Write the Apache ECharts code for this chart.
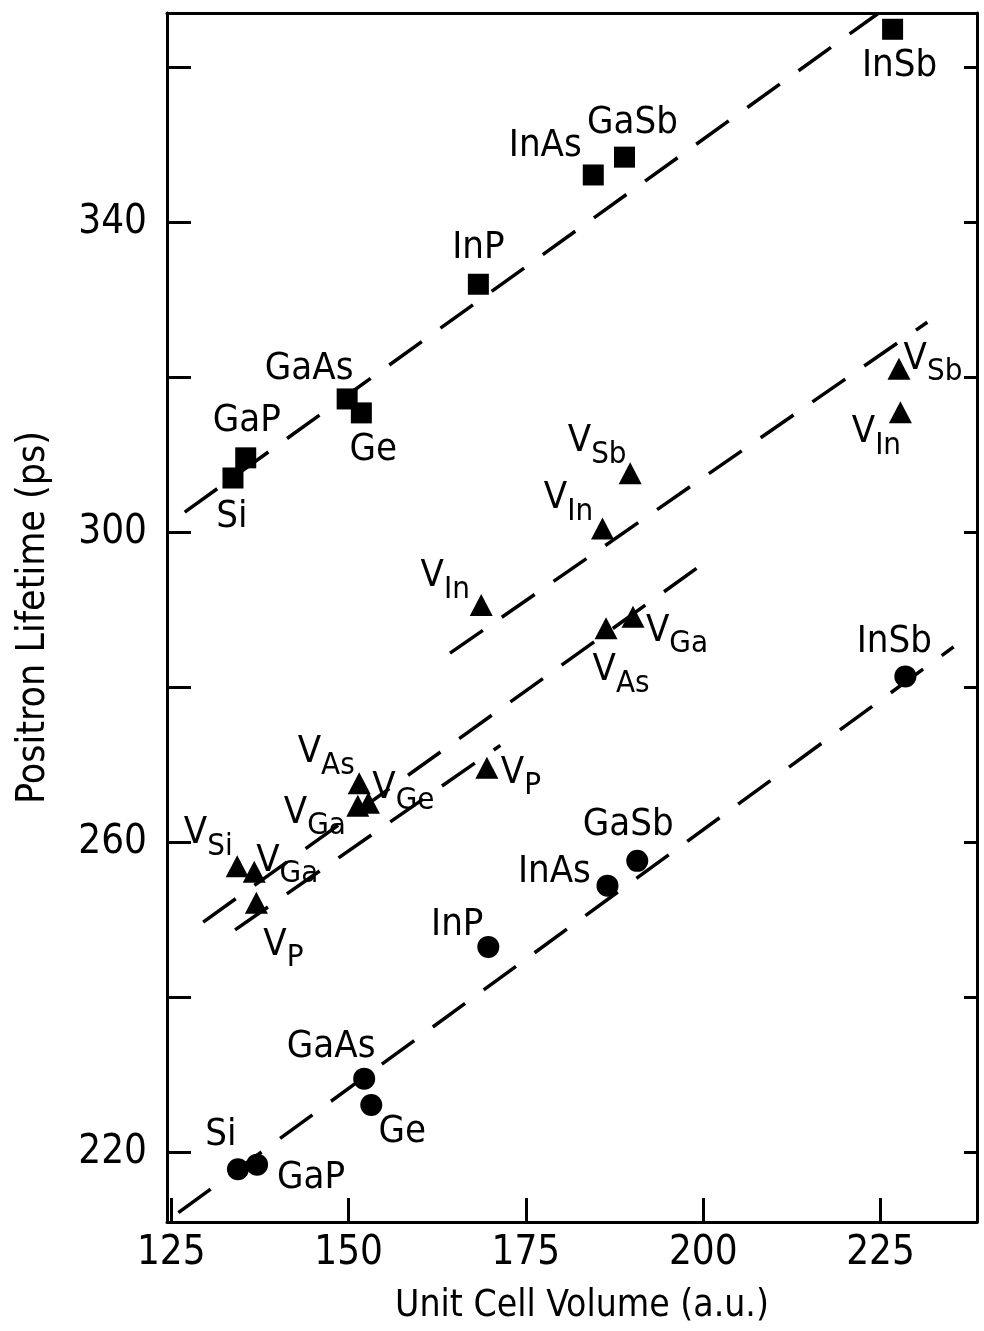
<!DOCTYPE html>
<html>
<head>
<meta charset="utf-8">
<title>Positron Lifetime vs Unit Cell Volume</title>
<script src="https://cdn.jsdelivr.net/npm/echarts@6/dist/echarts.min.js"></script>
<style>
  html, body { margin: 0; padding: 0; background: #fff; }
  #chart { width: 984px; height: 1331px; }
</style>
</head>
<body>
<div id="chart"></div>
<script>
// ---- axis ticks ----
const xTickValues = [125, 150, 175, 200, 225];
const yTickValues = [220, 240, 260, 280, 300, 320, 340, 360];
const yLabelValues = [220, 260, 300, 340];

// ---- divacancy lifetimes (filled squares) ----
const divacancyNames    = ['Si', 'GaP', 'GaAs', 'Ge', 'InP', 'InAs', 'GaSb', 'InSb'];
const divacancyVolume   = [133.7, 135.5, 149.8, 151.8, 168.3, 184.5, 188.9, 226.7];
const divacancyLifetime = [307.0, 309.6, 317.2, 315.4, 332.0, 346.1, 348.4, 364.9];

// ---- monovacancy lifetimes (filled triangles), labelled V with the site as subscript ----
const vacancySite     = ['Si', 'Ga', 'P', 'As', 'Ga', 'Ge', 'P', 'In', 'In', 'As', 'Sb', 'Ga', 'Sb', 'In'];
const vacancyVolume   = [134.3, 136.7, 137.0, 151.5, 151.3, 152.8, 169.5, 168.7, 185.8, 186.3, 189.7, 190.1, 227.6, 227.8];
const vacancyLifetime = [256.9, 256.2, 252.2, 267.6, 264.7, 265.1, 269.6, 290.6, 300.5, 287.6, 307.6, 289.1, 321.1, 315.5];

// ---- bulk lifetimes (filled circles) ----
const bulkNames    = ['Si', 'GaP', 'GaAs', 'Ge', 'InP', 'InAs', 'GaSb', 'InSb'];
const bulkVolume   = [134.4, 137.1, 152.2, 153.2, 169.7, 186.5, 190.7, 228.5];
const bulkLifetime = [217.8, 218.4, 229.5, 226.1, 246.5, 254.4, 257.6, 281.4];

// ---- dashed trend lines, [volume, lifetime] end points ----
const trendDivacancy     = [[126.9, 302.6], [224.6, 366.9]];
const trendVacancyUpper  = [[164.3, 284.4], [231.6, 327.1]];
const trendVacancyMiddle = [[129.5, 249.7], [201.3, 296.8]];
const trendVacancyLower  = [[134.0, 248.7], [171.4, 272.5]];
const trendBulk          = [[126.0, 212.2], [235.3, 285.2]];

// ---- label placement (pixel offsets from each marker centre) ----
const divacancyLabelOffset = [[-1, 39], [1, -37], [-38, -30], [12, 37], [0, -36], [-48, -29], [8, -34], [7, 37]];
const vacancyLabelOffset = [[-29, -33], [33, -11], [27, 42], [-33, -31], [-43, 7], [35, -15], [34, 5],
                            [-36, -29], [-34, -30], [15, 42], [-33, -32], [44, 14], [34, -10], [-24, 20]];
const bulkLabelOffset = [[-17, -34], [54, 13], [-33, -32], [31, 27], [-31, -22], [-53, -14], [-9, -36], [-11, -34]];

const FONT = "'Liberation Sans Narrow', 'Arial Narrow', 'DejaVu Sans Condensed', sans-serif";
const INK = '#000';

const baseLabel = {
  show: true,
  position: 'inside',
  color: INK,
  opacity: 1,
  fontFamily: FONT,
  fontSize: 38,
  align: 'center',
  verticalAlign: 'middle'
};

function namedPoints(names, xs, ys, offsets) {
  return names.map((n, i) => ({
    name: n,
    value: [xs[i], ys[i]],
    label: { offset: offsets[i] }
  }));
}

function trendSeries(points) {
  return {
    type: 'line',
    data: points,
    symbol: 'none',
    silent: true,
    z: 1,
    lineStyle: { color: INK, width: 3.5, type: [40, 23], cap: 'butt', opacity: 1 }
  };
}

const chart = echarts.init(document.getElementById('chart'), null, { renderer: 'canvas' });

const axisLine = { show: true, onZero: false, lineStyle: { color: INK, width: 3 } };
const markerStyle = { color: INK, opacity: 1 };

chart.setOption({
  animation: false,
  backgroundColor: '#fff',
  grid: { left: 167, right: 7, top: 13, bottom: 109 },
  xAxis: [
    {
      type: 'value',
      min: 124.4,
      max: 238.6,
      position: 'bottom',
      axisLine: axisLine,
      axisTick: { show: true, inside: true, length: 24, customValues: xTickValues, lineStyle: { color: INK, width: 3 } },
      axisLabel: { customValues: xTickValues, color: INK, fontFamily: FONT, fontSize: 40, margin: 12 },
      splitLine: { show: false },
      name: 'Unit Cell Volume (a.u.)',
      nameLocation: 'middle',
      nameGap: 66,
      nameTextStyle: { color: INK, fontFamily: FONT, fontSize: 37, padding: [0, 0, 0, 20] }
    },
    {
      type: 'value',
      min: 124.4,
      max: 238.6,
      position: 'top',
      axisLine: axisLine,
      axisTick: { show: false },
      axisLabel: { show: false },
      splitLine: { show: false }
    }
  ],
  yAxis: [
    {
      type: 'value',
      min: 211,
      max: 367,
      position: 'left',
      axisLine: axisLine,
      axisTick: { show: true, inside: true, length: 24, customValues: yTickValues, lineStyle: { color: INK, width: 3 } },
      axisLabel: { customValues: yLabelValues, color: INK, fontFamily: FONT, fontSize: 40, margin: 20 },
      splitLine: { show: false },
      name: 'Positron Lifetime (ps)',
      nameLocation: 'middle',
      nameGap: 114,
      nameRotate: 90,
      nameTextStyle: { color: INK, fontFamily: FONT, fontSize: 39 }
    },
    {
      type: 'value',
      min: 211,
      max: 367,
      position: 'right',
      axisLine: axisLine,
      axisTick: { show: true, inside: true, length: 13, customValues: yTickValues, lineStyle: { color: INK, width: 3 } },
      axisLabel: { show: false },
      splitLine: { show: false }
    }
  ],
  series: [
    trendSeries(trendDivacancy),
    trendSeries(trendVacancyUpper),
    trendSeries(trendVacancyMiddle),
    trendSeries(trendVacancyLower),
    trendSeries(trendBulk),
    {
      name: 'divacancy',
      type: 'scatter',
      symbol: 'rect',
      symbolSize: 21,
      itemStyle: markerStyle,
      z: 3,
      label: Object.assign({}, baseLabel, { formatter: '{b}' }),
      data: namedPoints(divacancyNames, divacancyVolume, divacancyLifetime, divacancyLabelOffset)
    },
    {
      name: 'vacancy',
      type: 'scatter',
      symbol: 'triangle',
      symbolSize: [23, 22],
      itemStyle: markerStyle,
      z: 3,
      label: Object.assign({}, baseLabel, {
        formatter: p => '{v|V}{s|' + p.name + '}',
        rich: {
          v: { fontFamily: FONT, fontSize: 38, color: INK, verticalAlign: 'top', lineHeight: 38 },
          s: { fontFamily: FONT, fontSize: 31, color: INK, verticalAlign: 'top', lineHeight: 31, padding: [17, 0, 0, 0] }
        }
      }),
      data: namedPoints(vacancySite, vacancyVolume, vacancyLifetime, vacancyLabelOffset)
    },
    {
      name: 'bulk',
      type: 'scatter',
      symbol: 'circle',
      symbolSize: 22,
      itemStyle: markerStyle,
      z: 3,
      label: Object.assign({}, baseLabel, { formatter: '{b}' }),
      data: namedPoints(bulkNames, bulkVolume, bulkLifetime, bulkLabelOffset)
    }
  ]
});
</script>
</body>
</html>
